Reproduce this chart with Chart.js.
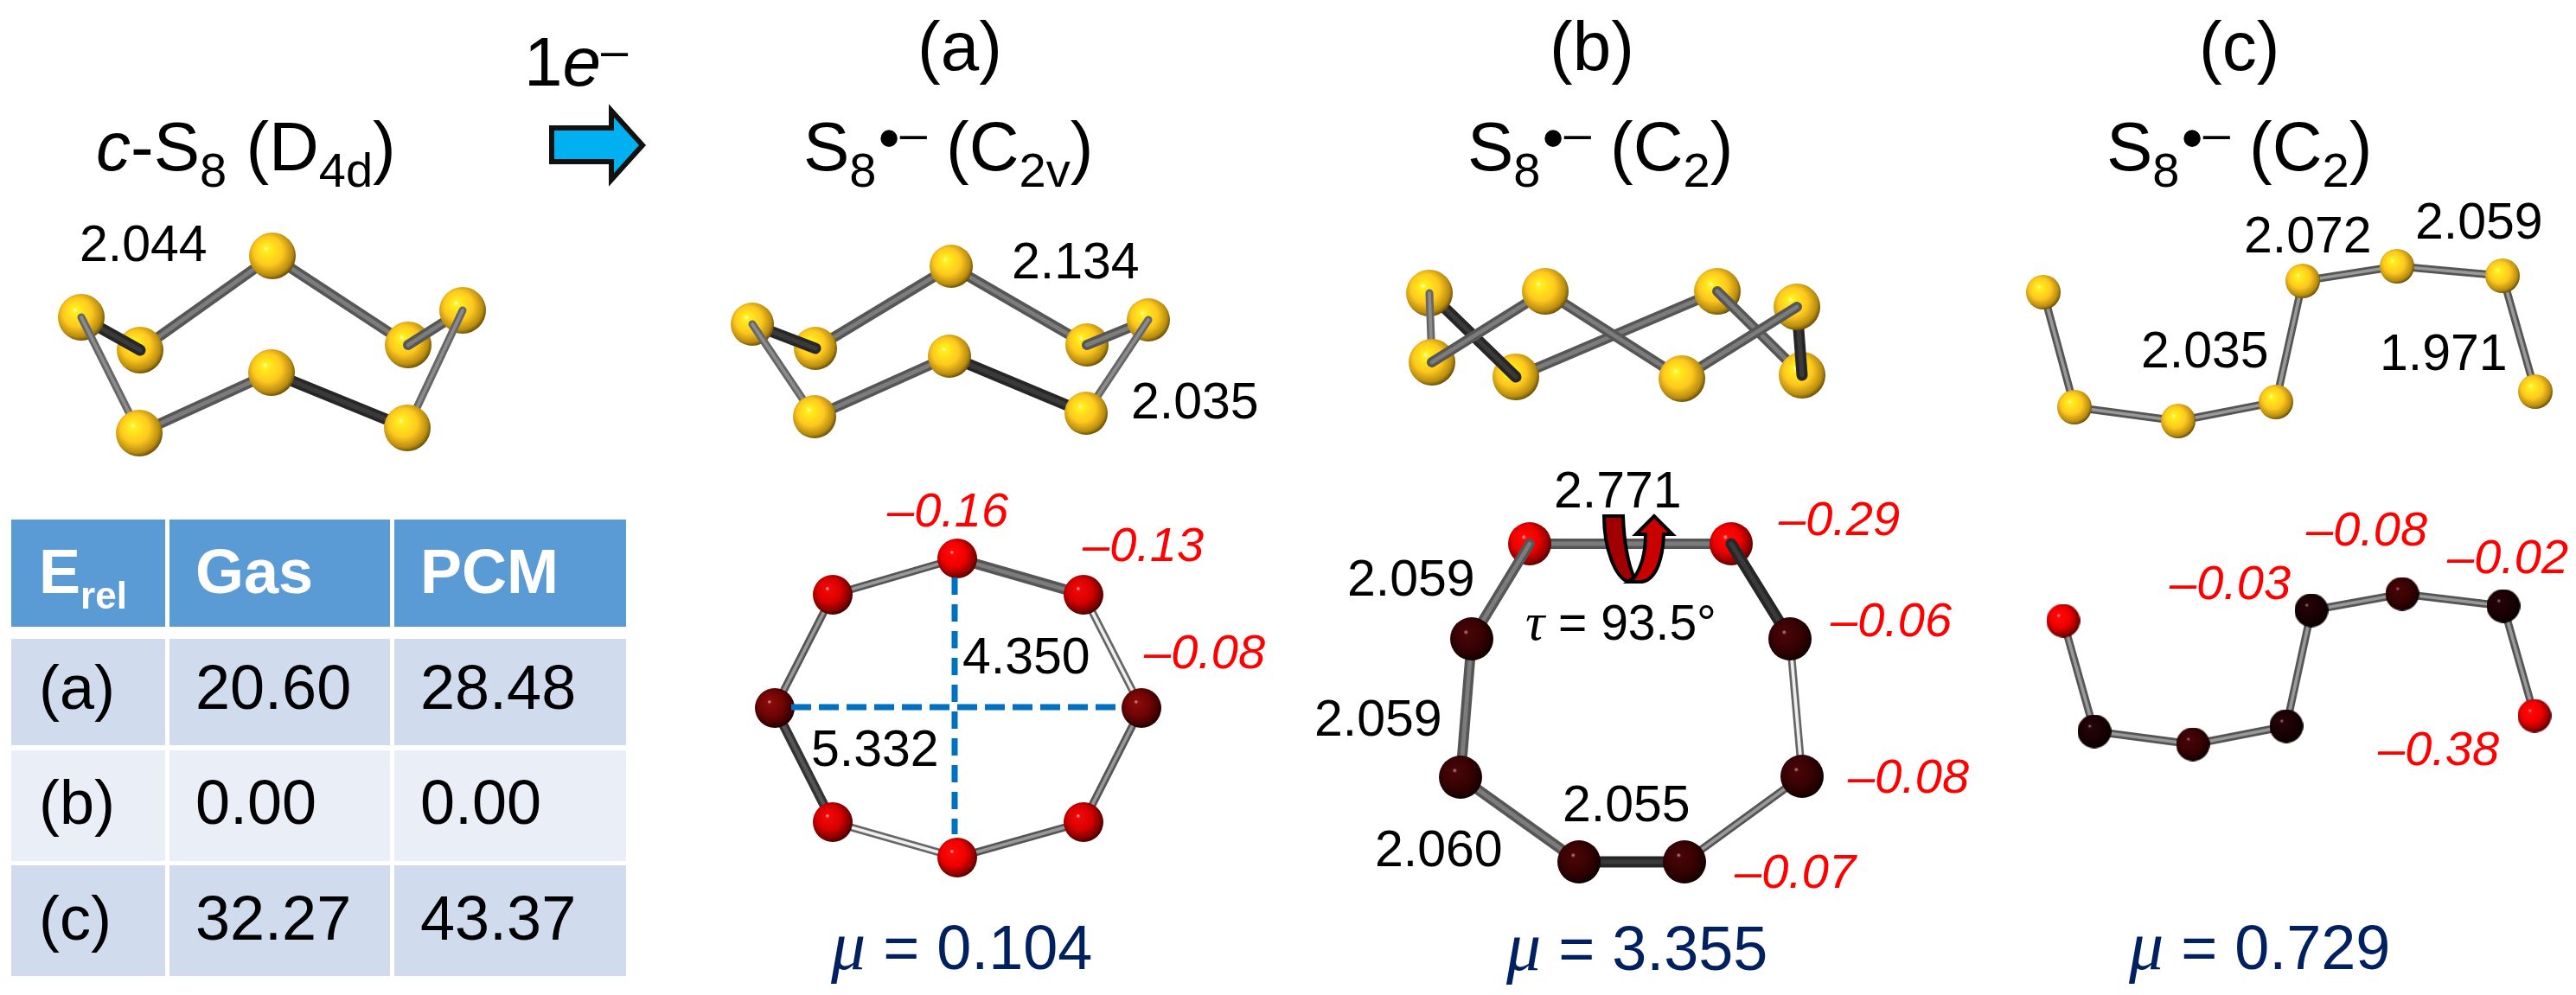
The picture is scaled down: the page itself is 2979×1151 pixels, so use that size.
<!DOCTYPE html>
<html>
<head>
<meta charset="utf-8">
<title>S8 radical anion structures</title>
<script src="https://cdn.jsdelivr.net/npm/chart.js@4"></script>
<style>
  html, body { margin: 0; background: #fff; }
  #page { position: relative; width: 2979px; height: 1151px; overflow: hidden; font-family: "Liberation Sans", Arial, sans-serif; }
  #plot { position: absolute; left: 0; top: 0; }
  #deco { position: absolute; left: 0; top: 0; }
  .t { position: absolute; line-height: 1; white-space: nowrap; color: #000; }
  .cell { position: absolute; }
  .greek { font-family: "Liberation Serif", serif; font-style: italic; }
</style>
</head>
<body>
<div id="page">
  <canvas id="plot" width="2979" height="1151"></canvas>
  <svg id="deco" width="2979" height="1151" viewBox="0 0 2979 1151">
    <polygon points="638,148 707,148 707,128 743,168 707,208 707,187 638,187" fill="#00b0f0" stroke="#111" stroke-width="6"/>
    <path d="M1855,597 L1877,597 C1878,627 1883,654 1890,668 L1883,673 C1868,668 1855,635 1855,597 Z" fill="#a00000" stroke="#000" stroke-width="4"/>
    <path d="M1913,597 L1892,618 L1903,618 C1903,638 1899,655 1890,668 L1883,673 L1899,673 C1916,670 1923,645 1924,618 L1934,618 Z" fill="#c80000" stroke="#000" stroke-width="4"/>
  </svg>
</div>
<script>
// atoms, in page units
const cs8X = [94, 162, 315, 472, 535, 161, 314, 471];
const cs8Y = [367, 405, 296, 399, 359, 501, 431, 495];
const cs8Paint = [[1, 2, 'mid'], [2, 3, 'mid'], [5, 6, 'mid'], [6, 7, 'dark'], 1, 3, [0, 1, 'dark'], [3, 4, 'mid'], 0, 2, 4, [5, 0, 'thin'], [4, 7, 'thin'], 5, 6, 7];

const upperAX = [870, 943, 1100, 1257, 1328, 942, 1098, 1256];
const upperAY = [375, 403, 308, 399, 370, 482, 412, 478];

const upperBX = [1653, 1787, 1986, 2078, 1656, 1753, 1945, 2084];
const upperBY = [339, 337, 337, 355, 419, 436, 438, 434];
const upperBPaint = [[5, 2, 'mid'], [1, 6, 'mid'], 2, [2, 7, 'mid'], 5, 7, [0, 5, 'dark'], [3, 7, 'dark'], 0, 3, [0, 4, 'thin'], [6, 3, 'mid'], 4, [4, 1, 'mid'], 1, 6];

const upperCX = [2363, 2399, 2519, 2632, 2663, 2772, 2894, 2932];
const upperCY = [338, 471, 487, 465, 325, 308, 319, 453];
const upperCPaint = [[0, 1, 'slim'], [1, 2, 'slim'], [2, 3, 'slim'], [3, 4, 'slim'], [4, 5, 'slim'], [5, 6, 'slim'], [6, 7, 'slim'], 0, 1, 2, 3, 4, 5, 6, 7];

const lowerAX = [1107, 1253, 1320, 1253, 1107, 963, 896, 963];
const lowerAY = [646, 688, 819, 951, 992, 951, 819, 688];
const lowerATint = ['red', 'red2', 'maroon', 'red2', 'red', 'red2', 'maroon', 'red2'];
const lowerAPaint = [[0, 1, 'mid'], [1, 2, 'glass'], [2, 3, 'slim'], [3, 4, 'slim'], [4, 5, 'glass'], [5, 6, 'dark2'], [6, 7, 'slim'], [7, 0, 'slim'], 0, 1, 2, 3, 4, 5, 6, 7];
const axisLongX = [915, 1290];
const axisLongY = [818, 818];
const axisShortX = [1104, 1104];
const axisShortY = [668, 965];

const lowerBX = [1769, 2002, 1702, 1689, 1826, 1948, 2084, 2070];
const lowerBY = [629, 629, 739, 899, 997, 997, 898, 739];
const lowerBTint = ['red', 'red', 'dark', 'dark', 'dark', 'dark', 'dark', 'dark'];
const lowerBPaint = [[0, 1, 'mid'], [2, 3, 'mid'], [3, 4, 'mid'], [4, 5, 'dark'], [5, 6, 'slim'], [6, 7, 'glass'], 0, 1, [0, 2, 'mid'], [1, 7, 'dark'], 2, 3, 4, 5, 6, 7];

const lowerCX = [2386, 2422, 2536, 2644, 2673, 2778, 2895, 2931];
const lowerCY = [718, 846, 861, 840, 706, 687, 701, 828];
const lowerCTint = ['red', 'black', 'dark', 'black', 'black', 'dark', 'black', 'red'];

const bondText = ['2.044', '2.134', '2.035', '2.059', '2.059', '2.060', '2.055', '2.771', '2.072', '2.059', '2.035', '1.971', '4.350', '5.332'];
const bondX = [95, 1173, 1311, 1561, 1523, 1593, 1810, 1800, 2598, 2796, 2479, 2755, 1116, 941];
const bondY = [303, 323, 485, 690, 852, 1003, 951, 588, 293, 277, 426, 429, 780, 887];

const chargeText = ['–0.16', '–0.13', '–0.08', '–0.29', '–0.06', '–0.08', '–0.07', '–0.08', '–0.02', '–0.03', '–0.38'];
const chargeX = [1026, 1252, 1323, 2057, 2117, 2137, 2006, 2667, 2830, 2509, 2750];
const chargeY = [609, 649, 773, 619, 736, 917, 1027, 631, 663, 693, 885];

const dipoleText = ['0.104', '3.355', '0.729'];
const dipoleX = [961, 1742, 2462];
const dipoleY = [1115, 1116, 1115];

const tableHead = ['rel', 'Gas', 'PCM'];
const tableRows = ['(a)', '(b)', '(c)'];
const tableGas = ['20.60', '0.00', '32.27'];
const tablePcm = ['28.48', '0.00', '43.37'];

const BOND = {
  mid: { w: 12, outer: '#565656', inner: '#7c7c7c' },
  dark: { w: 13, outer: '#262626', inner: '#3a3a3a' },
  dark2: { w: 11, outer: '#333', inner: '#555' },
  thin: { w: 9, outer: '#666', inner: '#8c8c8c' },
  slim: { w: 9, outer: '#555', inner: '#999' },
  glass: { w: 9, outer: '#666', inner: '#eee' },
};

const TINT = {
  yellow: ['#fffde0', '#fff01c', '#ffc81e', '#b88c10', '#6e5408'],
  red: ['#ffc0c0', '#ff0808', '#f00000', '#900000', '#5a0000'],
  red2: ['#ffc0c0', '#f00808', '#d80000', '#7c0000', '#480000'],
  maroon: ['#e0a0a0', '#8a0a0a', '#700404', '#400000', '#200000'],
  dark: ['#c89090', '#480508', '#3a0204', '#220000', '#0e0000'],
  black: ['#c0a0a0', '#260408', '#1c0204', '#100000', '#060000'],
};

function sphere(tint, r) {
  const c = document.createElement('canvas');
  c.width = c.height = r * 2;
  const g = c.getContext('2d');
  const stops = TINT[tint];
  const grad = g.createRadialGradient(r * 0.72, r * 0.68, 0, r * 0.9, r * 0.88, r * 1.12);
  grad.addColorStop(0, stops[0]);
  grad.addColorStop(0.1, stops[1]);
  grad.addColorStop(0.55, stops[2]);
  grad.addColorStop(0.88, stops[3]);
  grad.addColorStop(1, stops[4]);
  g.fillStyle = grad;
  g.beginPath();
  g.arc(r, r, r, 0, Math.PI * 2);
  g.fill();
  return c;
}

const layers = [];

function addSegment(xs, ys, width, color, dash) {
  layers.push({
    data: xs.map((x, i) => ({ x, y: ys[i] })),
    showLine: true, pointRadius: 0, borderColor: color, borderWidth: width,
    borderCapStyle: dash ? 'butt' : 'round', borderDash: dash || [],
  });
}

function addMolecule(xs, ys, paint, r, tints) {
  paint.forEach(step => {
    if (Array.isArray(step)) {
      const [a, b, kind] = step;
      const k = BOND[kind];
      const px = [xs[a], xs[b]], py = [ys[a], ys[b]];
      addSegment(px, py, k.w, k.outer);
      addSegment(px, py, k.w * 0.4, k.inner);
    } else {
      const tint = tints ? tints[step] : 'yellow';
      layers.push({
        data: [{ x: xs[step], y: ys[step] }],
        showLine: false, pointRadius: r, pointStyle: sphere(tint, r),
      });
    }
  });
}

addMolecule(cs8X, cs8Y, cs8Paint, 27);
addMolecule(upperAX, upperAY, cs8Paint, 25);
addMolecule(upperBX, upperBY, upperBPaint, 27);
addMolecule(upperCX, upperCY, upperCPaint, 20);
addMolecule(lowerAX, lowerAY, lowerAPaint, 23, lowerATint);
addSegment(axisLongX, axisLongY, 7, '#0070c0', [23, 9]);
addSegment(axisShortX, axisShortY, 7, '#0070c0', [20, 11]);
addMolecule(lowerBX, lowerBY, lowerBPaint, 25, lowerBTint);
addMolecule(lowerCX, lowerCY, upperCPaint, 19.5, lowerCTint);

// lower order sits on top, so later layers get a lower number
layers.forEach((d, i) => { d.order = -i; d.clip = false; });

const chart = new Chart(document.getElementById('plot'), {
  type: 'scatter',
  data: { datasets: layers },
  options: {
    responsive: false, animation: false, devicePixelRatio: 1, events: [],
    plugins: { legend: { display: false }, tooltip: { enabled: false } },
    layout: { padding: 0, autoPadding: false },
    scales: {
      x: { type: 'linear', min: 0, max: 2979, display: false },
      y: { type: 'linear', min: 0, max: 1151, reverse: true, display: false },
    },
  },
});

const page = document.getElementById('page');
const SUB = s => `<span style="font-size:56px;position:relative;top:19px">${s}</span>`;
const RADICAL = `<span style="font-size:72px;position:relative;top:-13px;margin-left:2px">•</span><span style="font-size:56px;position:relative;top:-24px">–</span>`;

function put(html, x, base, size, css) {
  const el = document.createElement('div');
  el.className = 't';
  el.innerHTML = html;
  el.style.cssText = `left:${x}px;top:${base - 0.8465 * size}px;font-size:${size}px;${css || ''}`;
  page.appendChild(el);
}

// titles
put(`<i>c</i>-S${SUB('8')} (D${SUB('4d')})`, 111, 198, 80);
put(`1<i>e</i><span style="font-size:56px;position:relative;top:-22px">–</span>`, 606, 100, 80);
put('(a)', 1061, 82, 80);
put('(b)', 1792, 82, 80);
put('(c)', 2543, 82, 80);
put(`S${SUB('8')}${RADICAL} (C${SUB('2v')})`, 929, 198, 80);
put(`S${SUB('8')}${RADICAL} (C${SUB('2')})`, 1697, 198, 80);
put(`S${SUB('8')}${RADICAL} (C${SUB('2')})`, 2436, 198, 80);

const sx = chart.scales.x, sy = chart.scales.y;
bondText.forEach((t, i) => put(t, sx.getPixelForValue(bondX[i]) - 3, sy.getPixelForValue(bondY[i]), 59));
chargeText.forEach((t, i) => put(t, sx.getPixelForValue(chargeX[i]), sy.getPixelForValue(chargeY[i]), 56, 'color:#f00;font-style:italic'));
dipoleText.forEach((t, i) => put(`<span class="greek" style="font-size:80px">μ</span> = ${t}`, sx.getPixelForValue(dipoleX[i]), sy.getPixelForValue(dipoleY[i]), 72, 'color:#002060'));
put('<span class="greek" style="font-size:62px">τ</span> = 93.5°', 1764, 736, 57);

// energy table
const colLeft = [13, 196, 456], colWidth = [178, 255, 268];
const rowTop = [601, 739, 868, 1001], rowHeight = [124, 123, 128, 128];
const rowFill = ['#5b9bd5', '#d0dcee', '#e9eef7', '#d0dcee'];
rowTop.forEach((top, r) => colLeft.forEach((left, c) => {
  const cell = document.createElement('div');
  cell.className = 'cell';
  cell.style.cssText = `left:${left}px;top:${top}px;width:${colWidth[c]}px;height:${rowHeight[r]}px;background:${rowFill[r]}`;
  page.appendChild(cell);
}));
const textLeft = [45, 226, 486];
const headCss = 'color:#fff;font-weight:bold';
put(`E<span style="font-size:44px;position:relative;top:18px">${tableHead[0]}</span>`, textLeft[0], 686, 72, headCss);
put(tableHead[1], textLeft[1], 686, 72, headCss);
put(tableHead[2], textLeft[2], 686, 72, headCss);
const rowBase = [820, 953, 1087];
tableRows.forEach((t, i) => {
  put(t, textLeft[0], rowBase[i], 72);
  put(tableGas[i], textLeft[1], rowBase[i], 72);
  put(tablePcm[i], textLeft[2], rowBase[i], 72);
});
</script>
</body>
</html>
